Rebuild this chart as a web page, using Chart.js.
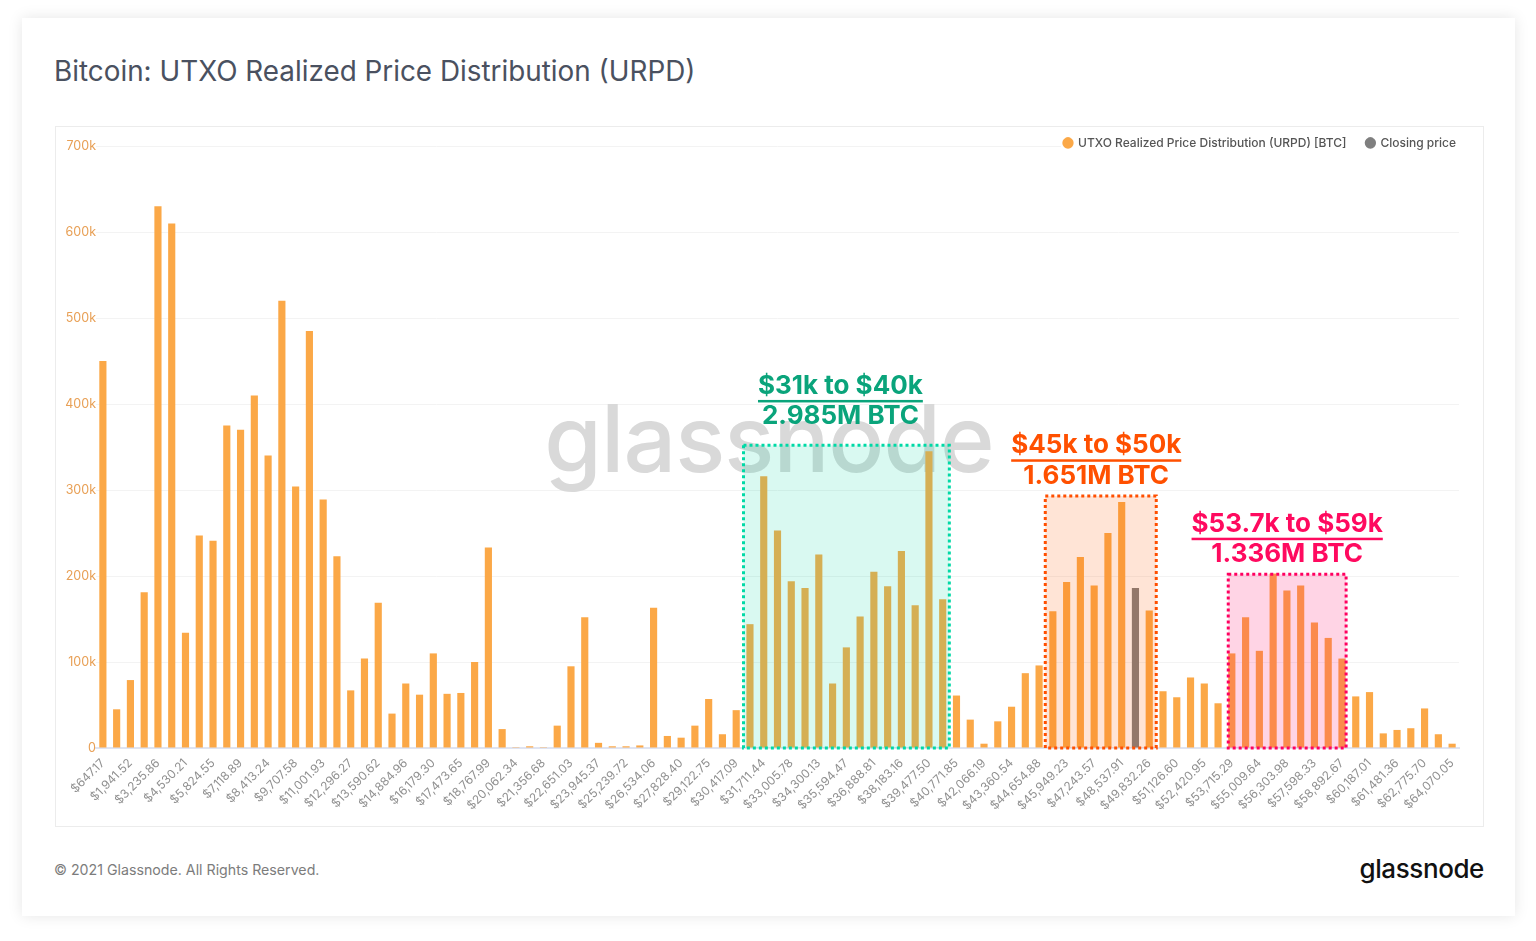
<!DOCTYPE html>
<html>
<head>
<meta charset="utf-8">
<title>Bitcoin: UTXO Realized Price Distribution (URPD)</title>
<script src="https://cdn.jsdelivr.net/npm/chart.js@4"></script>
<style>
    html, body { margin: 0; padding: 0; background: #fff; font-family: Inter, sans-serif; }
    #card { position: absolute; left: 22px; top: 18px; width: 1493px; height: 898px; background: #fff; box-shadow: 0 0 14px rgba(0,0,0,0.10); }
    #title { position: absolute; left: 54px; top: 53px; font-size: 27.85px; line-height: 36px; color: #4a5160; white-space: nowrap; }
    #frame { position: absolute; left: 55px; top: 126px; width: 1427px; height: 699px; border: 1px solid #ececec; }
    #urpdChart { position: absolute; left: 55px; top: 126px; }
    #copy { position: absolute; left: 54px; top: 861px; font-size: 14.2px; line-height: 18px; color: #7c7c7c; white-space: nowrap; }
    #logo { position: absolute; right: 52px; top: 851px; font-size: 26px; line-height: 36px; font-weight: 500; letter-spacing: -0.4px; color: #111; }
</style>
</head>
<body>
<div id="card"></div>
<div id="title">Bitcoin: UTXO Realized Price Distribution (URPD)</div>
<div id="frame"></div>
<canvas id="urpdChart" width="1429" height="700"></canvas>
<div id="copy">© 2021 Glassnode. All Rights Reserved.</div>
<div id="logo">glassnode</div>
<script>
// price buckets, every second one is labelled on the axis
const categories = [
    '$647.17', '$1,294.35', '$1,941.52', '$2,588.69', '$3,235.86', '$3,883.04', '$4,530.21', '$5,177.38', '$5,824.55', '$6,471.72',
    '$7,118.89', '$7,766.07', '$8,413.24', '$9,060.41', '$9,707.58', '$10,354.76', '$11,001.93', '$11,649.10', '$12,296.27', '$12,943.45',
    '$13,590.62', '$14,237.79', '$14,884.96', '$15,532.13', '$16,179.30', '$16,826.48', '$17,473.65', '$18,120.82', '$18,767.99', '$19,415.17',
    '$20,062.34', '$20,709.51', '$21,356.68', '$22,003.86', '$22,651.03', '$23,298.20', '$23,945.37', '$24,592.55', '$25,239.72', '$25,886.89',
    '$26,534.06', '$27,181.23', '$27,828.40', '$28,475.58', '$29,122.75', '$29,769.92', '$30,417.09', '$31,064.27', '$31,711.44', '$32,358.61',
    '$33,005.78', '$33,652.96', '$34,300.13', '$34,947.30', '$35,594.47', '$36,241.64', '$36,888.81', '$37,535.99', '$38,183.16', '$38,830.33',
    '$39,477.50', '$40,124.68', '$40,771.85', '$41,419.02', '$42,066.19', '$42,713.37', '$43,360.54', '$44,007.71', '$44,654.88', '$45,302.05',
    '$45,949.23', '$46,596.40', '$47,243.57', '$47,890.74', '$48,537.91', '$49,185.09', '$49,832.26', '$50,479.43', '$51,126.60', '$51,773.78',
    '$52,420.95', '$53,068.12', '$53,715.29', '$54,362.46', '$55,009.64', '$55,656.81', '$56,303.98', '$56,951.15', '$57,598.33', '$58,245.50',
    '$58,892.67', '$59,539.84', '$60,187.01', '$60,834.19', '$61,481.36', '$62,128.53', '$62,775.70', '$63,422.88', '$64,070.05'
];

const urpdValues = [
    450000, 45000, 79000, 181000, 630000, 610000, 134000, 247000, 241000, 375000,
    370000, 410000, 340000, 520000, 304000, 485000, 289000, 223000, 67000, 104000,
    169000, 40000, 75000, 62000, 110000, 63000, 64000, 100000, 233000, 22000,
    1000, 2000, 1000, 26000, 95000, 152000, 6000, 2000, 2000, 3000,
    163000, 14000, 12000, 26000, 57000, 16000, 44000, 144000, 316000, 253000,
    194000, 186000, 225000, 75000, 117000, 153000, 205000, 188000, 229000, 166000,
    345000, 173000, 61000, 33000, 5000, 31000, 48000, 87000, 96000, 159000,
    193000, 222000, 189000, 250000, 286000, null, 160000, 66000, 59000, 82000,
    75000, 52000, 110000, 152000, 113000, 203000, 183000, 189000, 146000, 128000,
    104000, 60000, 65000, 17000, 21000, 23000, 46000, 16000, 5000
];

// the closing price bucket is its own series
const closingValues = categories.map((c, i) => i === 75 ? 186000 : null);

const yTicks = [0, 100000, 200000, 300000, 400000, 500000, 600000, 700000];

// highlighted ranges, x in bucket positions, y in BTC
const rangeFrom = [46.53, 68.45, 81.74];
const rangeTo = [61.48, 76.51, 90.3];
const rangeTop = [352000, 293000, 202000];
const rangeTitles = ['$31k to $40k', '$45k to $50k', '$53.7k to $59k'];
const rangeAmounts = ['2.985M BTC', '1.651M BTC', '1.336M BTC'];
const labelCenter = [53.57, 72.15, 86.02];
const labelValue = [421000, 352000, 260800];
const rangeLines = ['#00d9a6', '#ff4f00', '#ff0060'];
const rangeFills = ['rgba(0,214,160,0.15)', 'rgba(255,85,0,0.16)', 'rgba(255,0,100,0.17)'];
const rangeText = ['#0aa47b', '#ff5000', '#ff0a5f'];

// watermark goes under the bars
const watermark = {
    id: 'watermark',
    beforeDatasetsDraw(chart) {
        const ctx = chart.ctx;
        ctx.save();
        ctx.font = '500 93px Inter, sans-serif';
        ctx.fillStyle = '#d9d9d9';
        ctx.textAlign = 'center';
        ctx.textBaseline = 'alphabetic';
        ctx.letterSpacing = '-1px';
        ctx.fillText('glassnode', 714, 346);
        ctx.restore();
    }
};

const legendGap = {
    id: 'legendGap',
    afterLayout(chart) {
        // legend sits on the top grid line, near the right edge
        chart.legend.top += 13;
        chart.legend.bottom += 13;
        chart.legend.left += 17;
        chart.legend.right += 17;
    },
    afterDatasetsDraw(chart) {
        const area = chart.chartArea;
        chart.ctx.fillStyle = '#fff';
        chart.ctx.fillRect(area.right - 398, area.top - 8, 398, 16);
        chart.legend.draw();
    }
};

const ranges = {
    id: 'ranges',
    afterDatasetsDraw(chart) {
        const ctx = chart.ctx;
        const x = chart.scales.x;
        const y = chart.scales.y;
        rangeFrom.forEach((from, i) => {
            const left = x.getPixelForValue(from);
            const right = x.getPixelForValue(rangeTo[i]);
            const top = y.getPixelForValue(rangeTop[i]);
            const bottom = y.getPixelForValue(0);
            ctx.save();
            ctx.fillStyle = rangeFills[i];
            ctx.fillRect(left, top, right - left, bottom - top);
            ctx.strokeStyle = rangeLines[i];
            ctx.lineWidth = 3;
            ctx.setLineDash([3, 3]);
            ctx.strokeRect(left, top, right - left, bottom - top);
            ctx.setLineDash([]);

            const cx = x.getPixelForValue(labelCenter[i]);
            const cy = y.getPixelForValue(labelValue[i]);
            ctx.font = '700 26px Inter, sans-serif';
            ctx.fillStyle = rangeText[i];
            ctx.textAlign = 'center';
            ctx.textBaseline = 'middle';
            ctx.fillText(rangeTitles[i], cx, cy);
            const w = ctx.measureText(rangeTitles[i]).width;
            ctx.fillRect(cx - w / 2, cy + 14, w, 2.5);
            ctx.fillText(rangeAmounts[i], cx, cy + 30.5);
            ctx.restore();
        });
    }
};

new Chart(document.getElementById('urpdChart').getContext('2d'), {
    type: 'bar',
    data: {
        labels: categories,
        datasets: [
            {
                label: 'UTXO Realized Price Distribution (URPD) [BTC]',
                data: urpdValues,
                backgroundColor: '#fba847',
                borderWidth: 0,
                barPercentage: 0.52,
                categoryPercentage: 1
            },
            {
                label: 'Closing price',
                data: closingValues,
                backgroundColor: '#7f7f7f',
                borderWidth: 0,
                barPercentage: 0.52,
                categoryPercentage: 1
            }
        ]
    },
    options: {
        responsive: false,
        animation: false,
        // the legend is 42px tall, negative top keeps the plot where it belongs
        layout: { padding: { top: -22, right: 25, left: 0, bottom: 0 } },
        scales: {
            x: {
                stacked: true,
                afterFit(scale) { scale.height = 78; },
                grid: { display: false, drawTicks: false },
                border: { color: '#dfe4f2', width: 2 },
                ticks: {
                    autoSkip: false,
                    maxRotation: 45,
                    minRotation: 45,
                    padding: 8,
                    color: '#909090',
                    font: { family: 'Inter, sans-serif', size: 12 },
                    callback(value, index) { return index % 2 === 0 ? categories[index] : ''; }
                }
            },
            y: {
                stacked: true,
                min: 0,
                max: 700000,
                afterFit(scale) { scale.width = 41; },
                afterBuildTicks(scale) { scale.ticks = yTicks.map(v => ({ value: v })); },
                grid: { color: '#f3f3f3', drawTicks: false },
                border: { display: false },
                ticks: {
                    padding: 0,
                    color: '#e8a056',
                    font: { family: 'Inter, sans-serif', size: 12.5 },
                    callback(value) { return value === 0 ? '0' : (value / 1000) + 'k'; }
                }
            }
        },
        plugins: {
            tooltip: { enabled: false },
            legend: {
                position: 'top',
                align: 'end',
                labels: {
                    usePointStyle: true,
                    pointStyle: 'circle',
                    boxHeight: 8,
                    boxWidth: 8,
                    padding: 20,
                    color: '#555',
                    font: { family: 'Inter, sans-serif', size: 12, weight: '500' }
                }
            }
        }
    },
    plugins: [watermark, legendGap, ranges]
});
</script>
</body>
</html>
